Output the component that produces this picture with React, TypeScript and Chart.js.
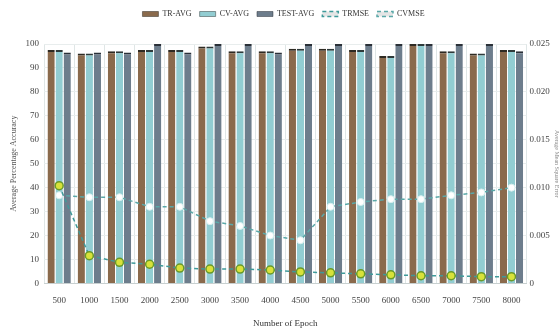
import React, { useEffect, useRef } from "react";
import { Chart, registerables } from "chart.js";
Chart.register(...registerables);

const epochs = ["500","1000","1500","2000","2500","3000","3500","4000","4500","5000","5500","6000","6500","7000","7500","8000"];
const trAvg = [97.5,96,97,97.5,97.5,99,97,97,98,98,97.5,95,100,97,96,97.5];
const cvAvg = [97.5,96,97,97.5,97.5,99,97,97,98,98,97.5,95,100,97,96,97.5];
const testAvg = [96.5,96.5,96.5,100,96.5,100,100,96.5,100,100,100,100,100,100,100,97];
const trmse = [0.0102,0.0029,0.0022,0.002,0.0016,0.0015,0.0015,0.0014,0.0012,0.0011,0.001,0.0009,0.0008,0.0008,0.0007,0.0007];
const cvmse = [0.0092,0.009,0.009,0.008,0.008,0.0065,0.006,0.005,0.0045,0.008,0.0085,0.0088,0.0088,0.0092,0.0095,0.01];

const legendMargin = {
  id: "legendMargin",
  beforeInit(chart: any) {
    const orig = chart.legend.fit;
    chart.legend.fit = function () {
      orig.bind(chart.legend)();
      this.height += 16;
    };
  },
};

export default function App() {
  const ref = useRef<HTMLCanvasElement>(null);
  useEffect(() => {
    document.body.style.margin = "0";
    const fam = "'Liberation Serif', 'DejaVu Serif', serif";
    const font = { family: fam, size: 9 };
    const chart = new Chart(ref.current!, {
      type: "bar",
      plugins: [legendMargin],
      data: {
        labels: epochs,
        datasets: [
          { type: "line", label: "TRMSE", data: trmse, yAxisID: "y1", borderColor: "#3f9a9a", borderDash: [4, 3], borderWidth: 1.5, pointRadius: 4, pointBackgroundColor: "#d8e23a", pointBorderColor: "#6a9a2a", pointBorderWidth: 1.5, order: 0 },
          { type: "line", label: "CVMSE", data: cvmse, yAxisID: "y1", borderColor: "#5aa8a8", borderDash: [4, 3], borderWidth: 1.5, pointRadius: 3.5, pointBackgroundColor: "#ffffff", pointBorderColor: "#d8f0f0", pointBorderWidth: 1, order: 0 },
          { label: "TR-AVG", data: trAvg, yAxisID: "y", backgroundColor: "#8a6a4c", borderColor: "#2e2a22", borderWidth: { top: 2, left: 0, right: 0, bottom: 0 }, order: 1 },
          { label: "CV-AVG", data: cvAvg, yAxisID: "y", backgroundColor: "#92cdd2", borderColor: "#2e3a3a", borderWidth: { top: 2, left: 0, right: 0, bottom: 0 }, order: 1 },
          { label: "TEST-AVG", data: testAvg, yAxisID: "y", backgroundColor: "#6d7d8c", borderColor: "#2a3038", borderWidth: { top: 2, left: 0, right: 0, bottom: 0 }, order: 1 },
        ],
      },
      options: {
        responsive: false,
        animation: false,
        layout: { padding: { top: 2, right: 0, left: 7, bottom: 0 } },
        plugins: {
          legend: {
            position: "top",
            labels: {
              font: { family: fam, size: 8 },
              color: "#333",
              boxWidth: 16,
              boxHeight: 5,
              padding: 8,
              sort: (a: any, b: any) => {
                const o = ["TR-AVG", "CV-AVG", "TEST-AVG", "TRMSE", "CVMSE"];
                return o.indexOf(a.text) - o.indexOf(b.text);
              },
            },
          },
          tooltip: { enabled: false },
        },
        scales: {
          x: {
            grid: { color: "#dfe6e6", offset: true, drawTicks: false },
            border: { color: "#c8d0d0" },
            ticks: { font, color: "#444", padding: 12 },
            title: { display: true, text: "Number of Epoch", font, color: "#333", padding: { top: 0, bottom: 1 } },
            categoryPercentage: 0.72,
            barPercentage: 1.0,
          },
          y: {
            position: "left",
            min: 0, max: 100,
            ticks: { stepSize: 10, font, color: "#444", padding: 5 },
            grid: { color: "#e8eded", drawTicks: false },
            border: { display: false },
            title: { display: true, text: "Average Percentage Accuracy", font: { family: fam, size: 8 }, color: "#555", padding: 2 },
          },
          y1: {
            position: "right",
            min: 0, max: 0.025,
            ticks: { stepSize: 0.005, font, color: "#444", padding: 3 },
            grid: { display: false, drawTicks: false },
            border: { display: false },
            title: { display: true, text: "Average Mean Square Error", font: { family: fam, size: 6 }, color: "#888", padding: 0 },
          },
        },
      },
    });
    return () => chart.destroy();
  }, []);
  return <canvas ref={ref} width={560} height={330} />;
}
